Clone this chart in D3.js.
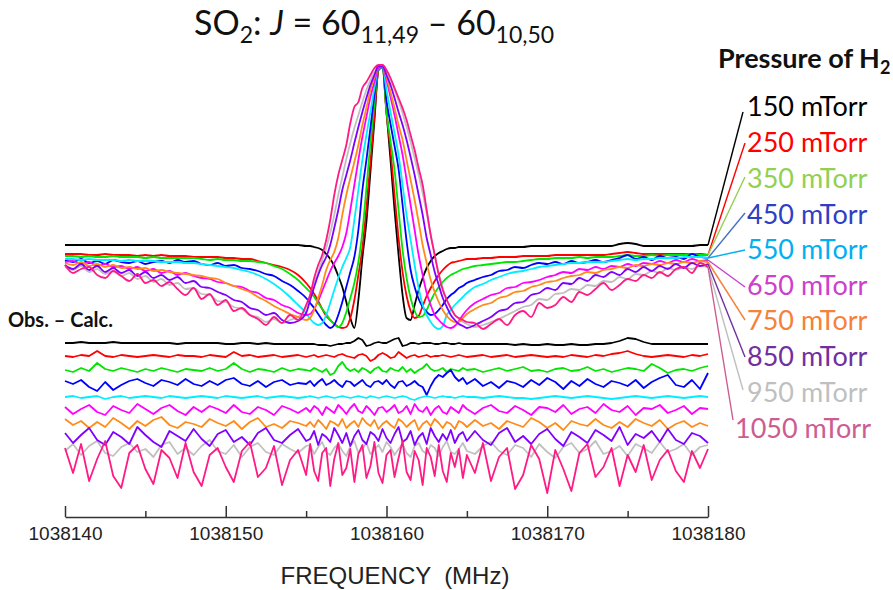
<!DOCTYPE html>
<html lang="en">
<head>
<meta charset="UTF-8">
<title>SO2 J = 60(11,49) - 60(10,50) H2 pressure broadening</title>
<script src="https://d3js.org/d3.v7.min.js"></script>
<style>
  body { margin: 0; background: #fff; }
  svg { display: block; }
  svg text { font-family: 'Lato', 'Open Sans', sans-serif; white-space: pre; }
  .axis text { font-family: 'Liberation Sans', Arial, sans-serif; font-size: 19px; fill: #222; }
  .axis path, .axis line { stroke: #333; stroke-width: 1.5px; }
  .trace { fill: none; stroke-width: 1.8px; stroke-linejoin: round; }
</style>
</head>
<body>
<svg width="893" height="590"></svg>
<script>
// frequency grid, MHz above 1038140
const freqBase = 1038140;
const freqOffset = [0,0.5,1,1.5,2,2.5,3,3.5,4,4.5,5,5.5,6,6.5,7,7.5,8,8.5,9,9.5,10,10.5,11,11.5,12,12.5,13,13.5,14,14.5,15,
  15.25,15.5,15.75,16,16.25,16.5,16.75,17,17.25,17.5,17.75,18,18.25,18.5,18.75,19,19.25,19.5,19.75,20,20.25,20.5,20.75,21,21.25,21.5,21.75,22,22.25,22.5,22.75,23,23.25,23.5,23.75,24,24.25,24.5,24.75,25,
  25.5,26,26.5,27,27.5,28,28.5,29,29.5,30,30.5,31,31.5,32,32.5,33,33.5,34,34.5,35,35.5,36,36.5,37,37.5,38,38.5,39,39.5,40];

const pressures = [150, 250, 350, 450, 550, 650, 750, 850, 950, 1050];

// observed line shapes (a.u., peak ~180)
const obs150 = [0,0,0,0,0,0,0,0,0,0,0,0,0,0,0,0,0,0,0,0,0,0,0,0,0,0,0,0,0,0,-1,
  -1,-2,-3,-5,-9,-14,-21,-31,-42,-57,-73,-83,-55,-13,23,73,125,175,178,133,85,35,-10,-50,-73,-75,-60,-45,-33,-23,-16,-11,-8,-6,-4,-3,-3,-2,-2,-2,
  -2,-2,-2,-2,-2,-2,-2,-1,-1,-1,-1,-1,-1,-1,-1,-1,-1,-1,1,2,1,-1,-1,-1,-1,-1,-1,-1,0,0];
const obs250 = [-9,-9,-9,-10,-10,-9,-10,-10,-10,-11,-10,-11,-10,-11,-11,-11,-12,-12,-12,-12,-13,-13,-14,-14,-16,-18,-20,-22,-25,-30,-38,
  -43,-49,-56,-64,-71,-75,-79,-82,-83,-82,-73,-55,-30,-3,37,83,130,175,178,132,95,50,7,-27,-51,-66,-73,-71,-61,-51,-43,-36,-30,-25,-21,-18,-17,-16,-15,-14,
  -14,-13,-13,-12,-12,-12,-11,-11,-11,-11,-10,-10,-10,-10,-10,-10,-10,-9,-8,-7,-8,-9,-9,-9,-9,-9,-9,-9,-9,-10];
const obs350 = [-11,-11,-12,-11,-12,-12,-11,-12,-12,-12,-13,-12,-13,-13,-13,-13,-13,-14,-15,-14,-15,-15,-16,-16,-17,-18,-21,-24,-29,-35,-43,
  -47,-52,-58,-64,-69,-75,-79,-82,-78,-67,-53,-38,-17,13,57,102,142,176,178,133,104,75,35,-5,-33,-53,-66,-72,-71,-65,-56,-48,-42,-37,-33,-30,-28,-26,-24,-23,
  -21,-20,-19,-18,-17,-17,-16,-15,-14,-14,-13,-13,-13,-12,-13,-12,-12,-12,-11,-10,-11,-11,-10,-11,-10,-10,-10,-9,-10,-10];
const obs450 = [-15,-17,-14,-18,-16,-19,-15,-17,-18,-16,-19,-17,-16,-18,-15,-17,-16,-19,-20,-18,-21,-20,-23,-24,-26,-29,-31,-36,-40,-46,-53,
  -58,-63,-69,-75,-80,-83,-80,-70,-57,-42,-27,-12,15,55,85,117,150,177,178,144,121,99,76,40,4,-25,-42,-54,-62,-67,-70,-69,-65,-60,-54,-50,-47,-43,-41,-38,
  -35,-32,-30,-26,-25,-22,-23,-20,-18,-19,-17,-19,-16,-18,-17,-15,-17,-15,-13,-10,-14,-12,-15,-11,-13,-12,-14,-9,-12,-13];
const obs550 = [-14,-14,-15,-14,-15,-15,-15,-16,-15,-16,-16,-16,-17,-17,-17,-18,-18,-19,-20,-21,-22,-23,-25,-27,-30,-34,-39,-45,-52,-60,-68,
  -74,-78,-80,-78,-70,-58,-45,-33,-22,-13,-2,25,55,85,110,133,157,177,178,155,133,112,90,60,30,5,-20,-43,-60,-70,-77,-82,-84,-81,-70,-65,-60,-56,-52,-48,
  -42,-39,-35,-32,-29,-27,-26,-24,-22,-21,-20,-19,-18,-18,-17,-17,-17,-16,-15,-14,-15,-14,-14,-13,-13,-13,-12,-12,-12,-13];
const obs650 = [-17,-16,-19,-17,-21,-19,-22,-21,-24,-22,-26,-24,-28,-26,-30,-28,-31,-33,-34,-37,-38,-41,-42,-46,-48,-53,-55,-60,-63,-68,-70,
  -69,-64,-56,-46,-36,-26,-18,-11,-2,12,35,60,85,108,128,148,163,177,178,165,148,130,110,90,65,40,15,-10,-30,-48,-60,-70,-75,-79,-82,-83,-81,-76,-70,-65,
  -58,-54,-50,-48,-43,-42,-38,-37,-35,-32,-30,-27,-28,-24,-25,-22,-24,-21,-22,-19,-21,-18,-19,-16,-18,-15,-17,-14,-16,-15];
const obs750 = [-18,-20,-17,-21,-19,-22,-20,-23,-22,-24,-23,-26,-25,-27,-28,-29,-30,-31,-33,-34,-38,-41,-44,-47,-52,-56,-61,-65,-69,-72,-75,
  -73,-65,-53,-40,-25,-15,-7,7,30,50,67,83,100,120,137,155,168,179,179,168,153,137,120,105,85,65,45,23,0,-18,-35,-47,-57,-65,-71,-75,-77,-77,-73,-69,
  -64,-60,-58,-53,-51,-47,-46,-42,-40,-37,-36,-33,-31,-30,-27,-28,-25,-24,-22,-23,-20,-21,-19,-20,-18,-19,-17,-18,-16,-17];
const obs850 = [-20,-24,-19,-25,-21,-27,-23,-28,-25,-31,-27,-33,-30,-35,-32,-38,-36,-42,-43,-47,-50,-55,-57,-63,-65,-70,-68,-75,-78,-76,-68,
  -55,-42,-30,-20,-12,0,17,35,55,70,85,102,118,133,147,160,170,179,179,170,160,147,133,120,105,88,70,50,30,7,-10,-27,-40,-53,-62,-70,-75,-79,-81,-83,
  -80,-76,-72,-66,-64,-58,-57,-50,-48,-43,-45,-38,-39,-33,-36,-30,-32,-27,-30,-24,-27,-22,-26,-21,-24,-19,-23,-18,-21,-19];
const obs950 = [-22,-25,-21,-27,-24,-29,-26,-31,-28,-34,-31,-37,-34,-40,-38,-44,-43,-49,-50,-56,-57,-62,-64,-70,-72,-77,-74,-78,-75,-72,-62,
  -50,-38,-27,-15,-3,12,30,50,68,86,102,117,130,143,155,165,173,179,180,174,165,155,144,132,118,103,87,70,52,32,10,-10,-28,-43,-55,-63,-70,-74,-77,-79,
  -82,-80,-77,-74,-70,-66,-62,-60,-54,-55,-49,-48,-44,-45,-40,-41,-36,-37,-32,-34,-29,-30,-26,-28,-23,-25,-22,-24,-21,-22];
const obs1050 = [-20,-28,-24,-22,-30,-33,-26,-31,-36,-29,-38,-35,-41,-37,-44,-50,-43,-54,-49,-60,-55,-66,-63,-70,-74,-80,-72,-78,-70,-75,-60,
  -50,-33,-20,-10,5,25,50,70,85,100,122,138,143,157,163,170,177,180,180,175,167,157,147,137,125,110,95,77,60,35,10,-10,-30,-45,-55,-63,-70,-73,-75,-77,
  -78,-84,-79,-74,-80,-70,-66,-72,-58,-63,-60,-52,-57,-47,-50,-44,-38,-45,-40,-34,-36,-30,-33,-27,-31,-24,-22,-28,-18,-22];

// obs - calc residuals (same a.u.)
const res150 = [0,0,1,0,0,0,1,0,0,0,0,0,0,0,-1,0,0,0,0,0,-1,-1,0,0,-1,0,-1,-1,-1,-1,-1,
  -1,-1,-2,-2,-2,-3,-2,-1,-1,0,0,2,5,3,-3,-2,0,1,0,0,2,4,5,-3,-2,0,0,-1,0,0,0,-1,-1,0,0,-1,-1,0,-1,-1,
  -1,-1,-1,-1,-1,-2,-1,-2,-2,-1,-2,-2,-1,-2,-2,-1,-1,0,2,5,4,1,-1,-1,-1,-1,-1,-1,-1,-1];
const res250 = [0,-1,1,0,5,0,-1,1,0,-1,0,1,0,-1,1,0,0,-1,1,0,-1,4,0,1,-1,0,1,-1,0,1,-1,
  0,1,-1,0,1,0,-1,1,2,0,-1,-2,1,2,0,-5,-3,1,3,1,-2,-1,4,1,-2,0,1,-1,0,1,-1,0,0,1,0,-1,0,1,0,-1,
  0,1,-1,0,1,-1,0,1,0,-1,0,-1,1,0,-1,1,0,2,3,5,2,0,-1,0,1,0,-1,1,0,2];
const res350 = [0,-2,2,-1,7,1,-1,2,0,-2,1,-1,2,0,-2,1,0,-1,2,-1,1,7,1,-2,1,0,-2,2,-1,1,0,
  -1,2,0,-2,1,-5,-3,4,8,2,-1,1,-2,2,0,-3,1,3,-1,-2,2,0,-1,3,-2,1,-3,0,2,6,1,-1,0,2,-2,1,0,-1,2,0,
  1,-2,0,2,-1,1,3,-1,0,-2,1,2,-1,0,3,-1,1,-2,0,2,1,-1,6,2,-3,0,1,-1,2,4];
const res450 = [2,-1,3,-4,-8,1,-7,-2,2,4,0,-3,3,1,-2,4,-1,-3,2,-2,3,5,-1,-3,2,-4,1,3,-2,0,-1,
  2,-3,1,4,-2,0,3,-1,-4,2,1,-3,0,3,-2,-4,1,2,-1,3,-2,-5,1,2,-3,-1,2,-2,-4,-12,-3,4,8,6,10,13,6,2,5,-1,
  4,-3,1,-5,2,0,-4,3,-2,5,1,-6,2,-3,4,-1,-4,2,0,-3,3,-5,1,5,8,-2,-4,3,-6,10];
const res550 = [0,1,-1,0,1,-2,0,1,-1,0,1,0,-1,1,0,-1,0,1,0,-1,1,0,-1,0,1,-1,0,1,0,-1,0,
  1,0,-1,0,1,0,-1,0,1,0,-1,0,1,0,-1,1,0,-1,0,1,0,-1,0,1,0,-2,-3,-1,0,1,0,-1,0,1,0,0,-1,0,1,0,
  0,-1,0,1,0,-1,-1,-2,-1,0,1,0,-1,0,1,0,-1,-2,-1,0,1,0,-1,0,1,0,-1,0,1,0];
const res650 = [3,-4,1,5,-2,-5,4,0,-3,6,1,-4,2,5,-1,-5,3,-2,4,1,-3,5,-2,-4,3,0,-5,4,1,-3,2,
  -2,4,1,-5,3,0,-3,5,1,-4,2,6,-1,-3,4,0,-5,2,3,-2,1,5,-3,-1,4,-4,6,0,-2,3,-5,1,4,-2,-4,3,0,-3,5,1,
  -4,2,5,-1,-3,4,0,-5,3,2,-2,5,-4,1,3,-3,6,0,-2,4,-5,2,1,5,-3,0,4,-4,2,1];
const res750 = [5,-1,3,-4,2,-3,6,1,-5,3,-2,4,7,-1,-4,2,0,-3,5,1,-2,3,-5,2,6,-3,0,-4,3,1,-2,
  2,-3,4,0,-5,3,1,-2,5,-4,0,3,-3,6,1,-2,4,-5,0,3,-1,-4,5,2,-3,1,4,-6,0,3,-2,5,1,-4,2,0,-5,3,1,-3,
  4,-2,1,-5,3,0,-3,6,2,-4,1,-6,3,0,-2,5,-1,-4,2,-3,5,1,-2,4,-5,0,3,-3,1,-2];
const res850 = [4,-6,2,9,-3,-8,5,0,-7,10,2,-5,-10,6,1,-4,8,-2,-9,3,7,-5,0,-8,4,9,-3,-6,2,8,-4,
  -2,6,-8,3,0,-5,9,2,-6,4,-9,1,7,-3,-7,5,2,-4,8,-1,-6,3,10,-5,-2,6,-8,0,4,-7,9,1,-5,3,-3,7,-6,2,5,-4,
  6,-3,-8,4,9,-5,1,-7,3,8,-2,-9,5,0,-6,7,2,-4,10,-8,3,-1,6,-5,8,-3,-7,4,1,-6];
const res950 = [-2,5,-6,3,8,-4,-7,2,6,-3,0,-8,4,7,-5,1,-6,3,9,-2,-5,4,-8,2,6,-3,-6,5,0,-4,3,
  4,-5,2,7,-3,-6,1,5,-2,-7,3,8,-4,0,6,-5,-1,4,-3,7,2,-6,0,5,-4,-8,3,6,-2,-5,4,1,-7,2,8,-3,-5,0,6,-2,
  -5,3,7,-2,-6,4,1,-8,5,-3,-9,2,6,-4,0,8,-5,-2,3,-7,5,1,-4,7,-3,0,5,-6,2,4];
const res1050 = [15,-10,19,-18,4,22,-13,-25,10,18,-6,-21,13,5,-15,20,-9,-23,8,15,-4,-19,12,21,-14,-5,17,-22,3,13,-12,
  19,-8,-18,10,15,-23,4,20,-12,-5,14,-19,9,18,-15,-3,21,-10,-20,8,13,-14,5,22,-9,-17,12,3,-22,15,6,-13,18,-8,-19,10,-4,14,-15,8,
  -10,20,-18,6,15,-26,-12,18,4,-30,13,-6,-28,10,19,-14,-4,15,-23,8,-9,18,-17,3,13,-8,-19,12,-5,14];

const tickMajor = [1038140, 1038150, 1038160, 1038170, 1038180];
const tickMinor = [1038145, 1038155, 1038165, 1038175];

// styling / layout
const traceColors = ["#000000", "#ff0000", "#00e600", "#0000ff", "#00eeff", "#ff00ff", "#ff8c1a", "#7f00ff", "#c0c0c0", "#ff1a85"];
const legendColors = ["#000000", "#ff0000", "#92d050", "#2f3fc4", "#00b0f0", "#cc40cc", "#f5813a", "#7030a0", "#bfbfbf", "#cc5c92"];
const leaderColors = ["#000000", "#ff0000", "#92d050", "#4472c4", "#00b0f0", "#cc40cc", "#f5813a", "#7030a0", "#bfbfbf", "#cc5c92"];
const residualOffset = [-98, -111, -125, -138, -152, -165, -179, -192, -204, -218];
const legendBaseline = [116, 152, 188, 224, 259, 295, 330, 366, 402, 438];
const legendX = [747, 747, 747, 747, 747, 747, 747, 747, 747, 735];
const leaderEndX = [743, 745, 745, 745, 745, 745, 745, 745, 743, 733];
const leaderEndY = [112, 143, 177, 213, 250, 287, 320, 357, 390, 420];

const obsSeries = [obs150, obs250, obs350, obs450, obs550, obs650, obs750, obs850, obs950, obs1050];
const resSeries = [res150, res250, res350, res450, res550, res650, res750, res850, res950, res1050];
const drawOrder = [8, 0, 1, 2, 3, 4, 5, 6, 7, 9];

const svg = d3.select("svg");
const x = d3.scaleLinear().domain([1038140, 1038180]).range([65, 708]);
const y = d3.scaleLinear().domain([-90, 180]).range([335, 65]);

const fx = (d, i) => x(freqBase + freqOffset[i]);

// title
const title = svg.append("text").attr("x", 194).attr("y", 35).attr("font-size", 34).attr("fill", "#111");
title.append("tspan").text("SO");
title.append("tspan").attr("dy", 8).attr("font-size", 23).text("2");
title.append("tspan").attr("dy", -8).text(": ");
title.append("tspan").attr("font-style", "italic").text("J");
title.append("tspan").text(" = 60");
title.append("tspan").attr("dy", 8).attr("font-size", 23).text("11,49");
title.append("tspan").attr("dy", -8).text(" \u2013 60");
title.append("tspan").attr("dy", 8).attr("font-size", 23).text("10,50");

// observed spectra
const gObs = svg.append("g");
drawOrder.forEach(k => {
  gObs.append("path")
    .datum(obsSeries[k])
    .attr("class", "trace")
    .attr("stroke", traceColors[k])
    .attr("d", d3.line().x(fx).y(d => y(d)).curve(d3.curveMonotoneX));
});

// residuals
const gRes = svg.append("g");
drawOrder.forEach(k => {
  gRes.append("path")
    .datum(resSeries[k])
    .attr("class", "trace")
    .attr("stroke", traceColors[k])
    .attr("d", d3.line().x(fx).y(d => y(residualOffset[k] + d)));
});

svg.append("text").attr("x", 8).attr("y", 327).attr("font-size", 20).attr("font-weight", 700)
  .attr("fill", "#111").text("Obs. \u2013 Calc.");

// legend with leader lines
const legendTitle = svg.append("text").attr("x", 718).attr("y", 68).attr("font-size", 27)
  .attr("font-weight", 700).attr("fill", "#111");
legendTitle.append("tspan").text("Pressure of H");
legendTitle.append("tspan").attr("dy", 6).attr("font-size", 18).text("2");

pressures.forEach((p, k) => {
  const last = obsSeries[k].length - 1;
  svg.append("line")
    .attr("x1", fx(null, last)).attr("y1", y(obsSeries[k][last]))
    .attr("x2", leaderEndX[k]).attr("y2", leaderEndY[k])
    .attr("stroke", leaderColors[k]).attr("stroke-width", 1.4);
  svg.append("text")
    .attr("x", legendX[k]).attr("y", legendBaseline[k])
    .attr("font-size", 27).attr("fill", legendColors[k])
    .text(p + " mTorr");
});

// frequency axis
svg.append("g").attr("class", "axis").attr("transform", "translate(0,517)")
  .call(d3.axisBottom(x).tickValues(tickMajor).tickFormat(d3.format("d"))
    .tickSizeInner(-11).tickSizeOuter(0).tickPadding(10));
svg.append("g").attr("class", "axis").attr("transform", "translate(0,517)")
  .call(d3.axisBottom(x).tickValues(tickMinor).tickFormat("")
    .tickSizeInner(-6).tickSizeOuter(0))
  .select(".domain").remove();

svg.append("text").attr("x", 395).attr("y", 584).attr("text-anchor", "middle")
  .style("font-family", "'Liberation Sans', Arial, sans-serif").attr("font-size", 24).attr("fill", "#222")
  .text("FREQUENCY  (MHz)");
</script>
</body>
</html>
